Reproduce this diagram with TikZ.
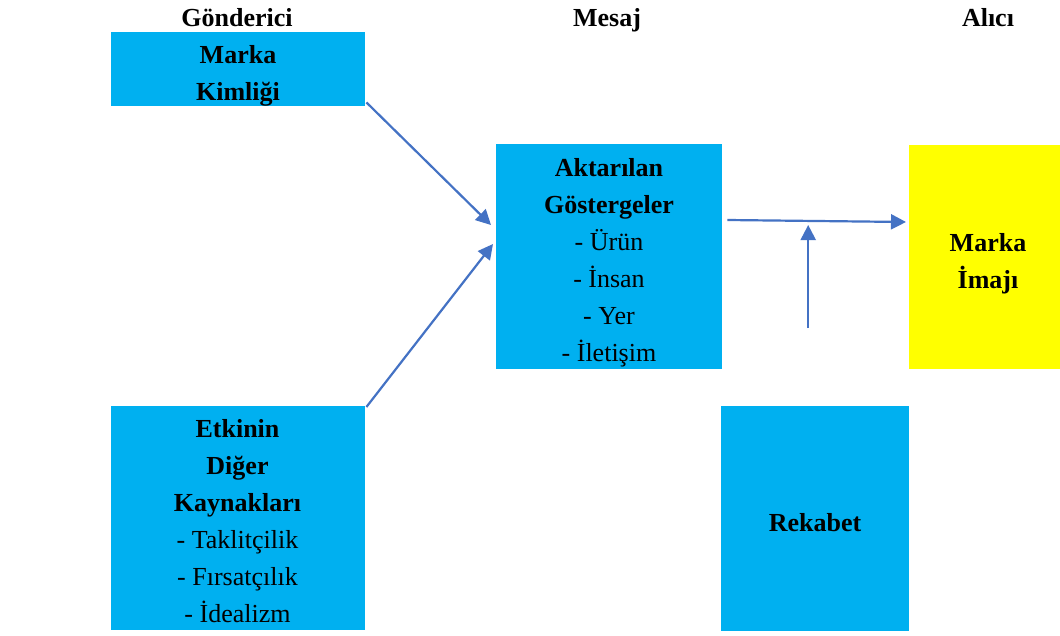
\documentclass[tikz,border=0pt]{standalone}
\usepackage{fontspec}
\setmainfont{Liberation Serif}
\usetikzlibrary{arrows.meta}
\definecolor{boxcyan}{HTML}{00B0F0}
\definecolor{boxyellow}{HTML}{FFFF00}
\definecolor{arrowblue}{HTML}{4472C4}
\begin{document}
\begin{tikzpicture}[x=1pt,y=-1pt,
  panel/.style={draw=none,inner sep=0pt,anchor=north west},
  % multi-line texts are placed by the baseline of their last line
  words/.style={inner sep=0pt,anchor=base,align=center,
    font=\fontsize{26}{37}\selectfont},
  heading/.style={words,font=\fontsize{26}{37}\selectfont\bfseries},
  link/.style={draw=arrowblue,line width=2.2pt,
    -{Triangle[length=15pt,width=15pt]}}]
\useasboundingbox[fill=white] (0,0) rectangle (1060,635);

% column headings
\node[heading] (hsend) at (237,26) {Gönderici};
\node[heading] (hmsg)  at (607,26) {Mesaj};
\node[heading] (hrecv) at (988,26) {Alıcı};

% boxes
\node[panel,fill=boxcyan,minimum width=254pt,minimum height=74pt]  (mk) at (111,32) {};
\node[panel,fill=boxcyan,minimum width=226pt,minimum height=225pt] (ag) at (496,144) {};
\node[panel,fill=boxyellow,minimum width=151pt,minimum height=224pt] (mi) at (909,145) {};
\node[panel,fill=boxcyan,minimum width=254pt,minimum height=224pt] (ek) at (111,406) {};
\node[panel,fill=boxcyan,minimum width=188pt,minimum height=225pt] (rk) at (721,406) {};

% box texts
\node[words] (mkt) at (238,100) {\textbf{Marka}\\\textbf{Kimliği}};
\node[words] (agt) at (609,361.5) {\textbf{Aktarılan}\\\textbf{Göstergeler}\\- Ürün\\- İnsan\\- Yer\\- İletişim};
\node[words] (mit) at (988,288) {\textbf{Marka}\\\textbf{İmajı}};
\node[words] (ekt) at (237.5,622) {\textbf{Etkinin}\\\textbf{Diğer}\\\textbf{Kaynakları}\\- Taklitçilik\\- Fırsatçılık\\- İdealizm};
\node[words] (rkt) at (815,531) {\textbf{Rekabet}};

% connectors
\draw[link] ([shift={(1,-4)}]mk.south east) -- ([shift={(-5,81)}]ag.north west);
\draw[link] ([shift={(1,1)}]ek.north east) -- ([shift={(-3,100)}]ag.north west);
\draw[link] ([shift={(5,76)}]ag.north east) -- ([shift={(-3,77)}]mi.north west);
\coordinate (rkup) at ([shift={(-7,-78)}]rk.north);
\coordinate (join) at ([shift={(-7,-181)}]rk.north);
\draw[link] (rkup) -- (join);
\end{tikzpicture}
\end{document}
